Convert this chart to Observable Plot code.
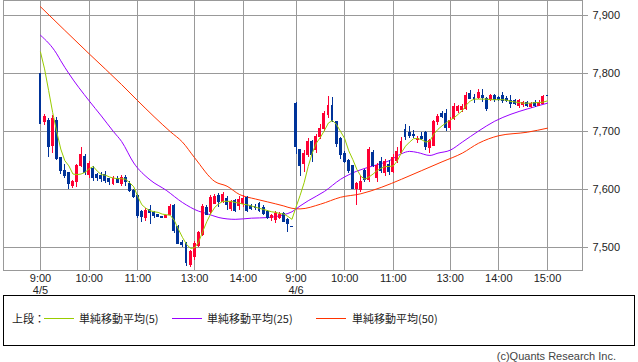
<!DOCTYPE html>
<html><head><meta charset="utf-8">
<script src="https://cdn.jsdelivr.net/npm/d3@7"></script>
<script src="https://cdn.jsdelivr.net/npm/@observablehq/plot@0.6"></script>
<style>
body{margin:0;background:#fff;}
#wrap{position:relative;width:638px;height:362px;overflow:hidden;}
#legend{position:absolute;left:3px;top:295px;width:630px;height:49px;border:1px solid #000;box-sizing:content-box;font-family:"Noto Sans CJK JP",sans-serif;font-size:11px;color:#222;}
#legend .it{position:absolute;top:14px;line-height:16px;white-space:nowrap;}
#legend .ln{position:absolute;top:22px;height:1px;}
#copy{position:absolute;right:22px;top:350px;font-family:"Liberation Sans",sans-serif;font-size:11px;color:#444;}
</style></head><body><div id="wrap"></div>
<script>
// Candles (5-minute bars, 4/5 9:00 .. 4/6 15:00), bar index = position in arrays
const open  = [7800,7716,7719,7676,7719,7654,7633,7628,7607,7613,7640,7657,7626,7636,7625,7624,7626,7618,7610,7619,7610,7620,7610,7597,7590,7561,7552,7565,7560,7556,7553,7552,7557,7572,7535,7508,7507,7470,7484,7503,7522,7569,7561,7576,7589,7578,7584,7566,7581,7572,7575,7586,7572,7570,7576,7569,7562,7551,7547,7552,7558,7548,7536,
               7748,7668,7645,7660,7682,7668,7690,7705,7728,7745,7716,7688,7662,7650,7640,7602,7600,7632,7616,7664,7621,7647,7628,7643,7630,7650,7664,7702,7698,7695,7685,7690,7697,7671,7676,7716,7730,7731,7707,7722,7736,7738,7739,7764,7758,7758,7762,7756,7755,7762,7758,7762,7756,7752,7752,7745,7746,7750,7742,7750,7745,7748,7762];
const high  = [7800,7730,7722,7728,7725,7656,7644,7630,7616,7643,7672,7660,7648,7640,7628,7630,7632,7620,7622,7622,7625,7624,7614,7600,7592,7564,7568,7572,7562,7558,7554,7556,7575,7575,7538,7512,7509,7495,7510,7528,7575,7572,7590,7592,7594,7596,7588,7582,7584,7588,7590,7588,7575,7574,7578,7572,7564,7558,7562,7560,7560,7550,7536,
               7750,7670,7668,7688,7685,7695,7712,7735,7760,7758,7718,7690,7666,7652,7642,7612,7622,7634,7672,7668,7645,7655,7652,7650,7660,7672,7690,7713,7708,7702,7692,7698,7700,7686,7720,7730,7735,7738,7725,7748,7745,7746,7768,7770,7764,7772,7772,7758,7764,7764,7760,7768,7760,7762,7756,7755,7752,7752,7750,7754,7753,7762,7762];
const low   = [7712,7710,7656,7663,7650,7627,7620,7600,7602,7603,7638,7625,7620,7615,7614,7612,7610,7608,7608,7610,7606,7606,7596,7585,7550,7544,7545,7540,7550,7552,7552,7550,7555,7525,7505,7500,7467,7466,7478,7500,7520,7555,7558,7574,7570,7576,7565,7562,7560,7565,7570,7560,7565,7565,7560,7555,7548,7545,7542,7548,7543,7526,7536,
               7660,7622,7630,7655,7647,7662,7686,7700,7722,7715,7672,7652,7645,7628,7600,7572,7596,7612,7612,7638,7612,7628,7622,7625,7628,7645,7660,7685,7688,7688,7680,7685,7668,7662,7674,7710,7722,7700,7702,7720,7732,7733,7737,7755,7748,7755,7750,7734,7752,7750,7752,7748,7750,7740,7745,7740,7742,7742,7740,7742,7743,7746,7762];
const close = [7714,7725,7674,7722,7653,7633,7624,7609,7613,7640,7660,7629,7644,7621,7620,7618,7615,7613,7619,7612,7620,7614,7598,7588,7555,7553,7564,7560,7555,7553,7552,7555,7570,7529,7507,7504,7474,7493,7507,7525,7570,7557,7585,7588,7578,7591,7574,7578,7564,7582,7584,7564,7567,7568,7564,7558,7551,7555,7558,7557,7545,7541,7536,
               7673,7640,7662,7682,7660,7690,7705,7731,7745,7719,7678,7660,7648,7632,7602,7610,7614,7616,7668,7641,7641,7633,7647,7630,7655,7665,7682,7690,7692,7692,7688,7688,7673,7684,7716,7725,7726,7707,7718,7742,7742,7742,7762,7756,7756,7766,7758,7739,7762,7755,7755,7752,7752,7748,7747,7752,7750,7745,7748,7745,7750,7760,7762];

// Simple moving averages
const ma5 = [7837,7808,7771,7733,7700,7670,7650,7641,7627,7626,7627,7630,7636,7640,7632,7626,7625,7622,7620,7619,7619,7618,7612,7605,7588,7574,7568,7564,7562,7561,7558,7557,7556,7547,7532,7518,7506,7499,7500,7510,7528,7545,7559,7570,7576,7580,7580,7580,7578,7577,7575,7574,7572,7570,7568,7566,7564,7562,7561,7559,7558,7554,7549,
             7570,7590,7612,7640,7663,7680,7690,7702,7715,7719,7712,7700,7688,7667,7652,7635,7623,7618,7622,7627,7633,7637,7640,7640,7641,7650,7664,7675,7682,7688,7688,7686,7682,7684,7696,7704,7710,7715,7720,7724,7730,7736,7746,7753,7756,7756,7756,7756,7755,7755,7755,7755,7754,7752,7751,7750,7749,7749,7749,7750,7750,7751,7753];
const ma25Idx = [0,4,5,7,12,15,18,20,23,27,31,35,39,41,44,48,52,56,60,62,64,66,70,74,78,82,86,89,91,93,96,98,101,104,108,112,116,120,125];
const ma25 = [7866,7834,7822,7800,7753,7727,7700,7683,7646,7617,7599,7578,7563,7559,7552,7549,7551,7552,7557,7562,7572,7581,7597,7618,7632,7641,7650,7662,7666,7664,7659,7663,7668,7682,7701,7718,7730,7739,7749];
const ma50Idx = [0,12,20,24,32,35,38,43,46,49,53,56,60,62,64,69,74,79,84,89,94,99,104,108,113,120,125];
const ma50 = [7915,7834,7781,7753,7700,7682,7655,7614,7606,7592,7584,7579,7572,7568,7567,7575,7587,7593,7604,7618,7633,7648,7663,7680,7693,7699,7706];

// Axis ticks
const timeTickIdx = [0,12,24,38,50,63,75,87,101,113,125];
const timeTickLabels = ["9:00","10:00","11:00","13:00","14:00","9:00","10:00","11:00","13:00","14:00","15:00"];
const dateTickIdx = [0,63];
const dateTickLabels = ["4/5","4/6"];
const priceTicks = [7500,7600,7700,7800,7900];
const legendLabels = ["単純移動平均(5)","単純移動平均(25)","単純移動平均(50)"];

const UP = "#ff0033", DOWN = "#003399";
const C5 = "#99cc00", C25 = "#9900ff", C50 = "#ff3300";

const bars = d3.range(open.length).map(i => ({i, o: open[i], h: high[i], l: low[i], c: close[i]}));
const ma5Data = ma5.map((v, i) => ({i, v}));
const ma25Data = ma25Idx.map((i, k) => ({i, v: ma25[k]}));
const ma50Data = ma50Idx.map((i, k) => ({i, v: ma50[k]}));
const timeLab = new Map(timeTickIdx.map((t, k) => [t, timeTickLabels[k]]));
const dateLab = new Map(dateTickIdx.map((t, k) => [t, dateTickLabels[k]]));
const col = d => d.c > d.o ? UP : DOWN;

const chart = Plot.plot({
  width: 638, height: 362,
  marginTop: 0, marginLeft: 3, marginRight: 56, marginBottom: 92,
  x: {type: "linear", domain: [-9.12, 133.63], axis: null, label: null},
  y: {domain: [7460.9, 7925.8], axis: null, label: null},
  style: {fontFamily: "'Liberation Sans', sans-serif", fontSize: "11px", color: "#222", background: "transparent"},
  marks: [
    Plot.gridY(priceTicks, {stroke: "#999", strokeOpacity: 1, shapeRendering: "crispEdges"}),
    Plot.gridX(timeTickIdx, {stroke: "#999", strokeOpacity: 1, shapeRendering: "crispEdges"}),
    Plot.frame({stroke: "#999", shapeRendering: "crispEdges"}),
    Plot.axisY(priceTicks, {anchor: "right", label: null, tickSize: 5, tickPadding: 5, tickFormat: d3.format(","), stroke: "#999", shapeRendering: "crispEdges"}),
    Plot.axisX(timeTickIdx, {anchor: "bottom", label: null, tickSize: 0, tickPadding: 4, tickFormat: d => timeLab.get(d)}),
    Plot.axisX(dateTickIdx, {anchor: "bottom", label: null, tickSize: 0, tickPadding: 16, tickFormat: d => dateLab.get(d)}),
    Plot.line(ma50Data, {x: "i", y: "v", stroke: C50, strokeWidth: 1, curve: "monotone-x"}),
    Plot.line(ma25Data, {x: "i", y: "v", stroke: C25, strokeWidth: 1, curve: "monotone-x"}),
    Plot.ruleX(bars, {x: "i", y1: "l", y2: "h", stroke: col, strokeWidth: 1, shapeRendering: "crispEdges"}),
    Plot.rect(bars, {x1: d => d.i - 0.36, x2: d => d.i + 0.36, y1: "o", y2: "c", fill: col, insetTop: -0.5, insetBottom: -0.5, shapeRendering: "crispEdges"}),
    Plot.line(ma5Data, {x: "i", y: "v", stroke: C5, strokeWidth: 1})
  ]
});
const wrap = document.getElementById("wrap");
wrap.appendChild(chart);

const lg = document.createElement("div");
lg.id = "legend";
let html = `<span class="it" style="left:8px">上段：</span>`;
const lineX = [40, 168, 312], textX = [75, 203, 348], cols = [C5, C25, C50];
legendLabels.forEach((lab, k) => {
  html += `<span class="ln" style="left:${lineX[k]}px;width:30px;background:${cols[k]}"></span>`;
  html += `<span class="it" style="left:${textX[k]}px">${lab}</span>`;
});
lg.innerHTML = html;
wrap.appendChild(lg);
const cp = document.createElement("div");
cp.id = "copy";
cp.textContent = "(c)Quants Research Inc.";
wrap.appendChild(cp);
</script>
</body></html>
